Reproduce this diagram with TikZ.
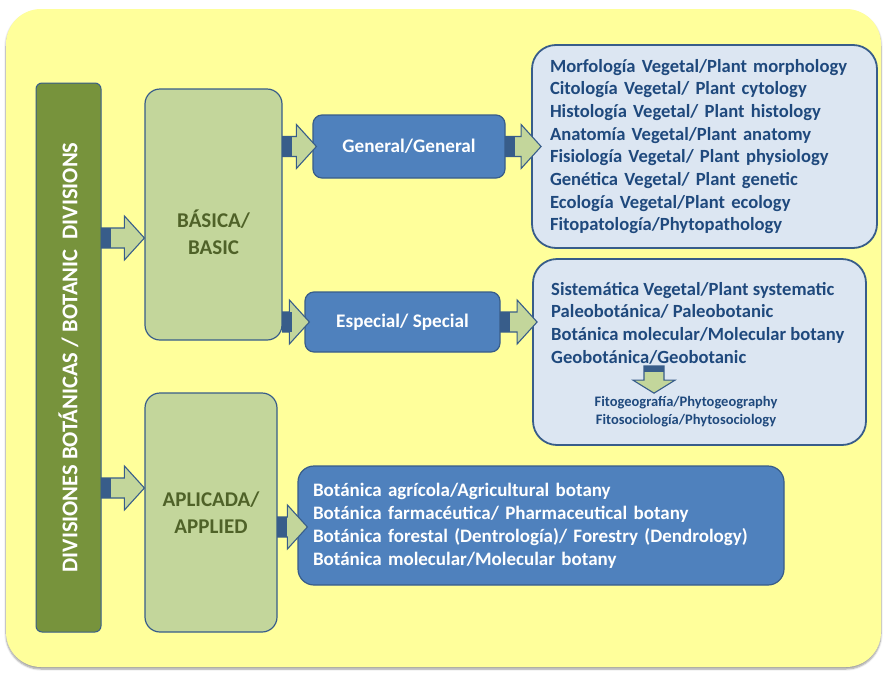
\documentclass[tikz,border=0pt]{standalone}
\usepackage{fontspec}
\setmainfont{Carlito}
\usetikzlibrary{calc,shadows.blur}
\definecolor{bgyellow}{RGB}{255,255,155}
\definecolor{olive}{RGB}{119,147,60}
\definecolor{lightgreen}{RGB}{195,214,155}
\definecolor{edgeblue}{RGB}{56,93,138}
\definecolor{midblue}{RGB}{79,129,189}
\definecolor{paleblue}{RGB}{220,230,242}
\definecolor{navy}{RGB}{31,73,125}
\definecolor{darkgreen}{RGB}{79,98,40}
\tikzset{
  catbox/.style={draw=edgeblue, line width=1.2pt, fill=lightgreen, rounded corners=15pt},
  subbox/.style={draw=edgeblue, line width=1.2pt, fill=midblue, rounded corners=9pt, text=white},
  listbox/.style={draw=edgeblue, line width=1.8pt, fill=paleblue, rounded corners=24pt},
  listtext/.style={align=left, font=\fontsize{18.6}{22.7}\selectfont\bfseries},
  blockarrow/.style={draw=edgeblue, line width=1.1pt, fill=lightgreen, line join=miter},
  arrowbase/.style={fill=edgeblue}
}
% horizontal block arrow: tail, tip
\newcommand{\hblock}[2]{%
  \draw[blockarrow] let \p1=#1, \p2=#2 in
    (\x1,\y1-10pt) -- (\x2-20pt,\y1-10pt) -- (\x2-20pt,\y1-22pt) -- (\x2,\y1)
    -- (\x2-20pt,\y1+22pt) -- (\x2-20pt,\y1+10pt) -- (\x1,\y1+10pt) -- cycle;
  \fill[arrowbase] let \p1=#1 in (\x1,\y1-10pt) rectangle (\x1+9pt,\y1+10pt);}
% downward block arrow: tail, tip
\newcommand{\vblock}[2]{%
  \draw[blockarrow] let \p1=#1, \p2=#2 in
    (\x1-10pt,\y1) -- (\x1-10pt,\y2+13pt) -- (\x1-21pt,\y2+13pt) -- (\x1,\y2)
    -- (\x1+21pt,\y2+13pt) -- (\x1+10pt,\y2+13pt) -- (\x1+10pt,\y1) -- cycle;
  \fill[arrowbase] let \p1=#1 in (\x1-10pt,\y1) rectangle (\x1+10pt,\y1-6pt);}

\begin{document}
\begin{tikzpicture}[x=1pt, y=-1pt, font=\fontsize{19.2}{24}\selectfont\bfseries]
\useasboundingbox (0,0) rectangle (886,675);
\fill[bgyellow, rounded corners=35pt, blur shadow={shadow xshift=0pt, shadow yshift=-2pt, shadow blur steps=6}] (6,9) rectangle (881,667);

% left bar
\node[draw=edgeblue, line width=1pt, fill=olive, rounded corners=6pt, text=white, rotate=90,
  minimum width=549, minimum height=65, inner sep=0pt, font=\fontsize{22.5}{26}\selectfont\bfseries] (bar)
  at (68.5,357.5) {DIVISIONES BOTÁNICAS / BOTANIC~~DIVISIONS};

% categories
\node[catbox, minimum width=137, minimum height=251] (bas) at (213.5,214.5) {};
\node[text=darkgreen, align=center, font=\fontsize{21}{27}\selectfont\bfseries] (bastext)
  at ($(bas.center)+(0,18)$) {BÁSICA/\\BASIC};
\node[catbox, minimum width=132, minimum height=239, text=darkgreen, align=center,
  font=\fontsize{21}{27}\selectfont\bfseries] (apl) at (211,512.5) {APLICADA/\\APPLIED};

% sub divisions
\node[subbox, minimum width=192, minimum height=63] (gen) at (409,146.5) {General/General};
\node[subbox, minimum width=195, minimum height=60] (esp) at (402.5,322) {Especial/ Special};

% lists
\node[listbox, listtext, text=navy, text width=309, inner xsep=18pt, minimum height=203] (genlist)
  at (704.5,146.5) {Morfología Vegetal/Plant morphology\\Citología Vegetal/ Plant cytology\\
  Histología Vegetal/ Plant histology\\Anatomía Vegetal/Plant anatomy\\
  Fisiología Vegetal/ Plant physiology\\Genética Vegetal/ Plant genetic\\
  Ecología Vegetal/Plant ecology\\Fitopatología/Phytopathology};
\node[listbox, minimum width=333, minimum height=186] (esplist) at (699.5,352) {};
\node[listtext, text=navy, anchor=west, inner sep=0pt] (esptext) at (551,323)
  {Sistemática Vegetal/Plant systematic\\Paleobotánica/ Paleobotanic\\
  Botánica molecular/Molecular botany\\Geobotánica/Geobotanic};
\node[text=navy, align=center, font=\fontsize{14.5}{18}\selectfont\bfseries] (geotext) at (686,412)
  {Fitogeografía/Phytogeography\\Fitosociología/Phytosociology};
\node[subbox, listtext, font=\fontsize{19}{23}\selectfont\bfseries, rounded corners=16pt, text width=456,
  inner xsep=15pt, minimum height=119] (apllist)
  at (541,525.5) {Botánica agrícola/Agricultural botany\\Botánica farmacéutica/ Pharmaceutical botany\\
  Botánica forestal (Dentrología)/ Forestry (Dendrology)\\Botánica molecular/Molecular botany};

% block arrows
\hblock{(bar.south |- 0,238)}{(bas.west |- 0,238)}
\hblock{(bar.south |- 0,488)}{(apl.west |- 0,488)}
\hblock{(bas.east |- gen.west)}{($(gen.west)+(4,0)$)}
\hblock{(bas.east |- esp.west)}{($(esp.west)+(5,0)$)}
\hblock{(gen.east)}{($(genlist.west |- gen.east)+(10,0)$)}
\hblock{(esp.east)}{($(esplist.west |- esp.east)+(5,0)$)}
\hblock{(apl.east |- 0,527)}{($(apllist.west |- 0,527)+(10,0)$)}
\vblock{(654,366)}{(geotext.north -| 654,0)}
\end{tikzpicture}
\end{document}
